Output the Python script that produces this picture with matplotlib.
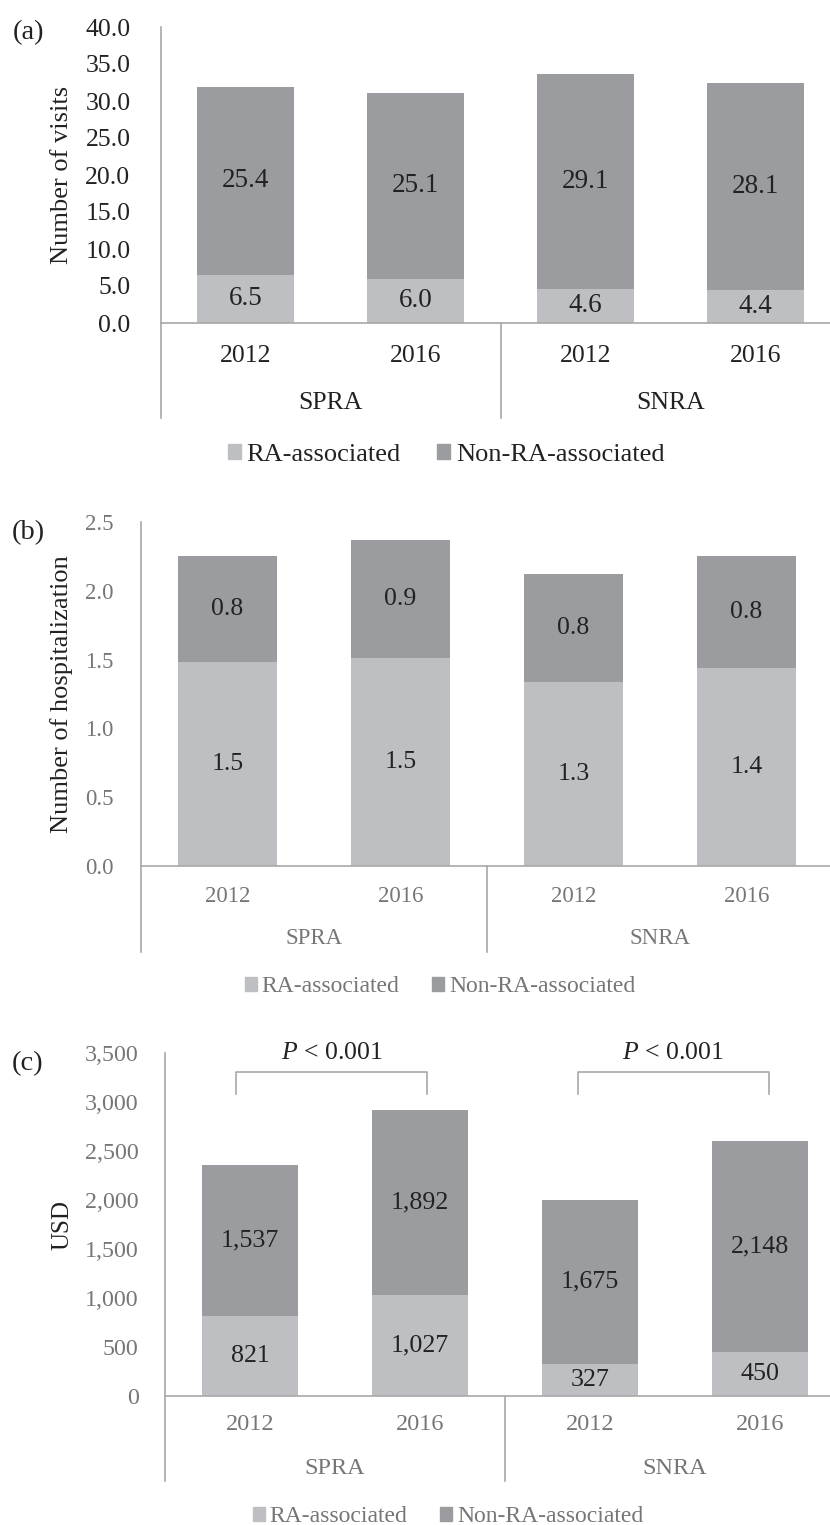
import numpy as np
import matplotlib
matplotlib.use('Agg')
import matplotlib.pyplot as plt
from matplotlib.ticker import FuncFormatter
from matplotlib.patches import Patch

plt.rcParams['font.family'] = ['Liberation Serif', 'DejaVu Serif']
plt.rcParams['mathtext.fontset'] = 'custom'
plt.rcParams['mathtext.it'] = 'Liberation Serif:italic'
plt.rcParams['mathtext.rm'] = 'Liberation Serif'

# data
years = ['2012', '2016', '2012', '2016']
groups = ['SPRA', 'SNRA']
series_names = ['RA-associated', 'Non-RA-associated']

visits_ra = [6.5, 6.0, 4.6, 4.4]
visits_non = [25.4, 25.1, 29.1, 28.1]

hosp_ra = [1.48, 1.51, 1.34, 1.44]
hosp_non = [0.77, 0.86, 0.78, 0.81]

cost_ra = [821, 1027, 327, 450]
cost_non = [1537, 1892, 1675, 2148]

p_text = '$\\mathit{P}$ < 0.001'

LIGHT = '#BEBFC2'
DARK = '#9B9CA0'
LINE = '#A8A8A8'

W, H = 830, 1525
fig = plt.figure(figsize=(W / 100, H / 100), dpi=100)


def add_px_axes(l, t, r, b):
    return fig.add_axes([l / W, 1 - b / H, (r - l) / W, (b - t) / H])


def fy(py):
    return 1 - py / H


def panel(box, ra, non, ymax, step, fmt, ylabel, tag, txt_color, sizes, rows, legend_x):
    l, t, r, b = box
    ax = add_px_axes(l, t, r, b)
    x = np.arange(len(years))
    tick_fs, val_fs, cat_fs, lab_fs, leg_fs = sizes
    c1 = ax.bar(x, ra, width=0.57, color=LIGHT, zorder=2)
    c2 = ax.bar(x, non, width=0.57, bottom=ra, color=DARK, zorder=2)
    ax.bar_label(c1, fmt=fmt, label_type='center', fontsize=val_fs, color='#222222')
    ax.bar_label(c2, fmt=fmt, label_type='center', fontsize=val_fs, color='#222222')

    ax.set_xlim(-0.5, 3.5)
    ax.set_ylim(0, ymax)
    ax.set_yticks(np.arange(0, ymax + step / 2, step))
    if fmt == '{:,.0f}':
        ax.yaxis.set_major_formatter(FuncFormatter(lambda v, p: '{:,.0f}'.format(v)))
    else:
        ax.yaxis.set_major_formatter(FuncFormatter(lambda v, p: '{:.1f}'.format(v)))
    for s in ['top', 'right']:
        ax.spines[s].set_visible(False)
    for s in ['left', 'bottom']:
        ax.spines[s].set_color(LINE)
        ax.spines[s].set_linewidth(1.2)
    ax.tick_params(axis='y', length=0, pad=tick_pad[tag], labelsize=tick_fs, labelcolor=txt_color)
    ax.set_xticks([])

    row_year, row_group, div_bottom, leg_y = rows
    span = b - t
    # category axis below the bars
    for xv in [-0.5, 1.5, 3.5]:
        ax.plot([xv, xv], [0, (b - div_bottom) / span], transform=ax.get_xaxis_transform(),
                color=LINE, lw=1.2, clip_on=False)
    for i, yr in enumerate(years):
        ax.text(i, (b - row_year) / span, yr, transform=ax.get_xaxis_transform(),
                ha='center', va='center', fontsize=cat_fs, color=txt_color)
    for j, g in enumerate(groups):
        ax.text(0.5 + 2 * j, (b - row_group) / span, g, transform=ax.get_xaxis_transform(),
                ha='center', va='center', fontsize=cat_fs, color=txt_color)

    fig.text(62 / W, fy((t + b) / 2), ylabel, rotation=90, ha='center', va='center',
             fontsize=lab_fs, color='#222222')
    fig.text(28 / W, fy(tag_y[tag]), '(' + tag + ')', ha='center', va='center',
             fontsize=20.5, color='#222222')

    handles = [Patch(color=LIGHT), Patch(color=DARK)]
    fig.legend(handles, series_names, loc='center', bbox_to_anchor=(legend_x / W, fy(leg_y)),
               ncol=2, frameon=False, fontsize=leg_fs, handlelength=0.5, handleheight=0.5,
               handletextpad=0.2, columnspacing=1.4, labelcolor=txt_color)
    return ax


tick_pad = {'a': 22, 'b': 20, 'c': 19}
tag_y = {'a': 33, 'b': 533, 'c': 1064}

panel((161, 27, 840, 323), visits_ra, visits_non, 40, 5, '{:.1f}', 'Number of visits', 'a',
      '#222222', (18.5, 19.5, 18.5, 19, 19), (356, 403, 418, 455), 446)

panel((141, 522, 833, 866), hosp_ra, hosp_non, 2.5, 0.5, '{:.1f}', 'Number of hospitalization', 'b',
      '#767676', (16.5, 18.5, 16.5, 19, 17), (896, 938, 952, 987), 440)

axc = panel((165, 1053, 845, 1396), cost_ra, cost_non, 3500, 500, '{:,.0f}', 'USD', 'c',
            '#767676', (17.3, 18.7, 17.5, 18, 17), (1425, 1468, 1481, 1517), 448)

# significance brackets
for x0, x1 in [(-0.08, 1.04), (1.93, 3.05)]:
    axc.plot([x0, x0, x1, x1], [3082, 3306, 3306, 3082], color=LINE, lw=1.2, clip_on=False)
    axc.text((x0 + x1) / 2, 3500, p_text, ha='center', va='center', fontsize=18.5, color='#222222')

fig.savefig('out.png', dpi=100)
